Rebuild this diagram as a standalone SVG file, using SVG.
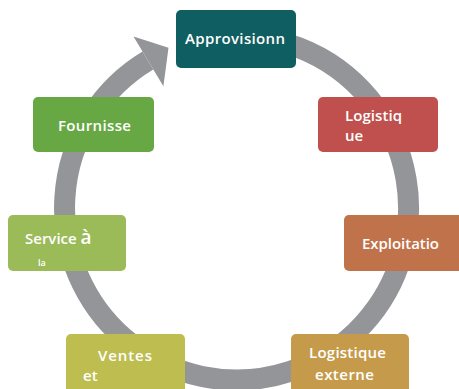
<svg xmlns="http://www.w3.org/2000/svg" width="459" height="389" viewBox="0 0 459 389">
<style>
.box{stroke:none}
.t{font-family:"Open Sans","Liberation Sans",sans-serif;font-weight:600;font-size:15px;fill:#ffffff}
.ring{fill:none;stroke:#939598;stroke-width:21}
</style>
<rect width="459" height="389" fill="#ffffff"/>
<g id="connectors">
<path class="ring" d="M 221.5 36.65 A 172 172 0 1 1 147.9 60.6"/>
<polygon points="133.5,36.6 168.5,47.8 163.4,86.3" fill="#939598"/>
</g>
<g id="approvisionn">
<rect class="box" x="176" y="10" width="120" height="58" rx="5" fill="#0f5e61"/>
<text class="t" x="235" y="44" text-anchor="middle" textLength="100">Approvisionn</text>
</g>
<g id="logistique">
<rect class="box" x="318" y="97" width="120" height="55" rx="5" fill="#c0504d"/>
<text class="t" x="345" y="121" textLength="57">Logistiq</text>
<text class="t" x="345" y="141">ue</text>
</g>
<g id="exploitatio">
<rect class="box" x="344" y="215" width="122" height="56" rx="5" fill="#c0734b"/>
<text class="t" x="362" y="249" textLength="77">Exploitatio</text>
</g>
<g id="logistique-externe">
<rect class="box" x="291" y="334" width="118" height="60" rx="5" fill="#c59b4b"/>
<text class="t" x="347.5" y="358" text-anchor="middle" textLength="77">Logistique</text>
<text class="t" x="344.5" y="380" text-anchor="middle" textLength="59">externe</text>
</g>
<g id="ventes">
<rect class="box" x="66" y="334" width="119" height="60" rx="5" fill="#bdbd50"/>
<text class="t" x="98" y="361" textLength="54">Ventes</text>
<text class="t" x="83" y="381">et</text>
</g>
<g id="service">
<rect class="box" x="8" y="215" width="118" height="56" rx="5" fill="#9bbb59"/>
<text class="t" x="25" y="244">Service <tspan style="font-size:19px">à</tspan></text>
<text class="t" x="38" y="266" style="font-size:9px">la</text>
</g>
<g id="fournisse">
<rect class="box" x="33" y="97" width="121" height="55" rx="5" fill="#67a845"/>
<text class="t" x="94.5" y="131" text-anchor="middle" textLength="73">Fournisse</text>
</g>
</svg>
